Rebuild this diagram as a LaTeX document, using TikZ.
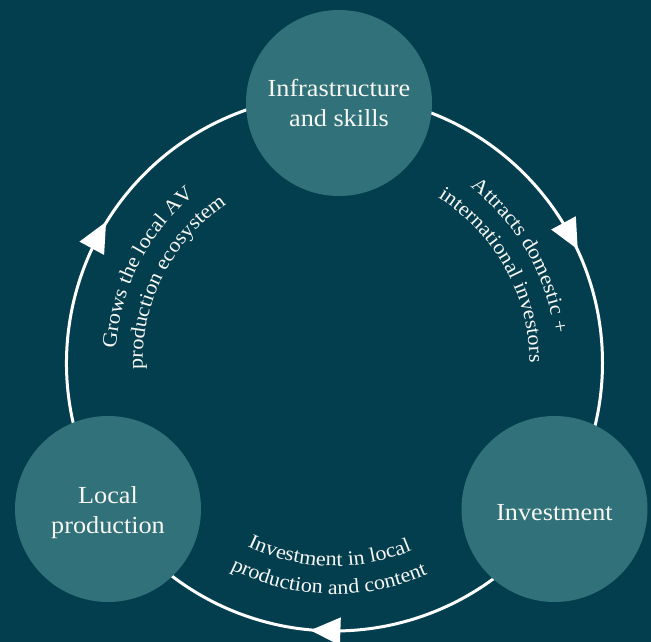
\documentclass[tikz,border=0pt]{standalone}
\usepackage{fontspec}
\setmainfont{Liberation Serif}
\newfontfamily\stagefamily[FakeStretch=1.07]{Liberation Serif}
\newfontfamily\captionfamily[FakeStretch=1.08]{Liberation Serif}
\usetikzlibrary{decorations.text,decorations.markings}

\definecolor{bgteal}{RGB}{3,62,78}
\definecolor{stagefill}{RGB}{49,113,121}
\definecolor{inkwhite}{RGB}{246,246,242}

\newcommand\arclabelfont{\captionfamily\fontsize{20.5}{24}\selectfont}

\begin{document}
\begin{tikzpicture}[x=1pt,y=1pt,
  stage/.style={circle, fill=stagefill, minimum size=186pt, inner sep=0pt,
    text=inkwhite, align=center, font=\stagefamily\fontsize{24.5}{30}\selectfont},
  flow/.style={draw=white, line width=3pt, postaction={decorate},
    decoration={markings, mark=at position #1 with {
      \fill[white] (-15pt,-14pt) -- (15pt,0pt) -- (-15pt,14pt) -- cycle;}}},
  flow/.default=0.5,
  arclabel/.style={decorate,
    decoration={text along path, text align=center, text color=inkwhite}}
]
\useasboundingbox (0,0) rectangle (651,642);
\fill[bgteal] (0,0) rectangle (651,642);

% centre of the cycle ring
\coordinate (c) at (334.5,279);

% ring segments between the stages, clockwise
\draw[flow] ([shift={(90:268pt)}]c) arc[start angle=90, end angle=-33.5, radius=268pt];
\draw[flow=0.515] ([shift={(-33.5:268pt)}]c) arc[start angle=-33.5, end angle=-147, radius=268pt];
\draw[flow] ([shift={(213:268pt)}]c) arc[start angle=213, end angle=90, radius=268pt];

% stages
\node[stage] (infra) at (339,539) {Infrastructure\\and skills};
\node[stage] (invest) at (554.5,133) {\raisebox{-12pt}[0pt][0pt]{Investment}};
\node[stage] (local) at (108,133)
  {\raisebox{-10pt}[0pt][0pt]{\begin{tabular}{@{}c@{}}Local\\production\end{tabular}}};

% curved captions along the ring
\path[arclabel, decoration={text={|\arclabelfont|Attracts domestic +}}]
  ([shift={(100:222pt)}]c) arc[start angle=100, end angle=-40, radius=222pt];
\path[arclabel, decoration={text={|\arclabelfont|international investors}}]
  ([shift={(99:195pt)}]c) arc[start angle=99, end angle=-41, radius=195pt];

\path[arclabel, decoration={text={|\arclabelfont|Investment in local}}]
  ([shift={(198.5:203pt)}]c) arc[start angle=198.5, end angle=338.5, radius=203pt];
\path[arclabel, decoration={text={|\arclabelfont|production and content}}]
  ([shift={(198.5:231pt)}]c) arc[start angle=198.5, end angle=338.5, radius=231pt];

\path[arclabel, decoration={text={|\arclabelfont|Grows the local AV}}]
  ([shift={(223:219pt)}]c) arc[start angle=223, end angle=83, radius=219pt];
\path[arclabel, decoration={text={|\arclabelfont|production ecosystem}}]
  ([shift={(223:192pt)}]c) arc[start angle=223, end angle=83, radius=192pt];
\end{tikzpicture}
\end{document}
